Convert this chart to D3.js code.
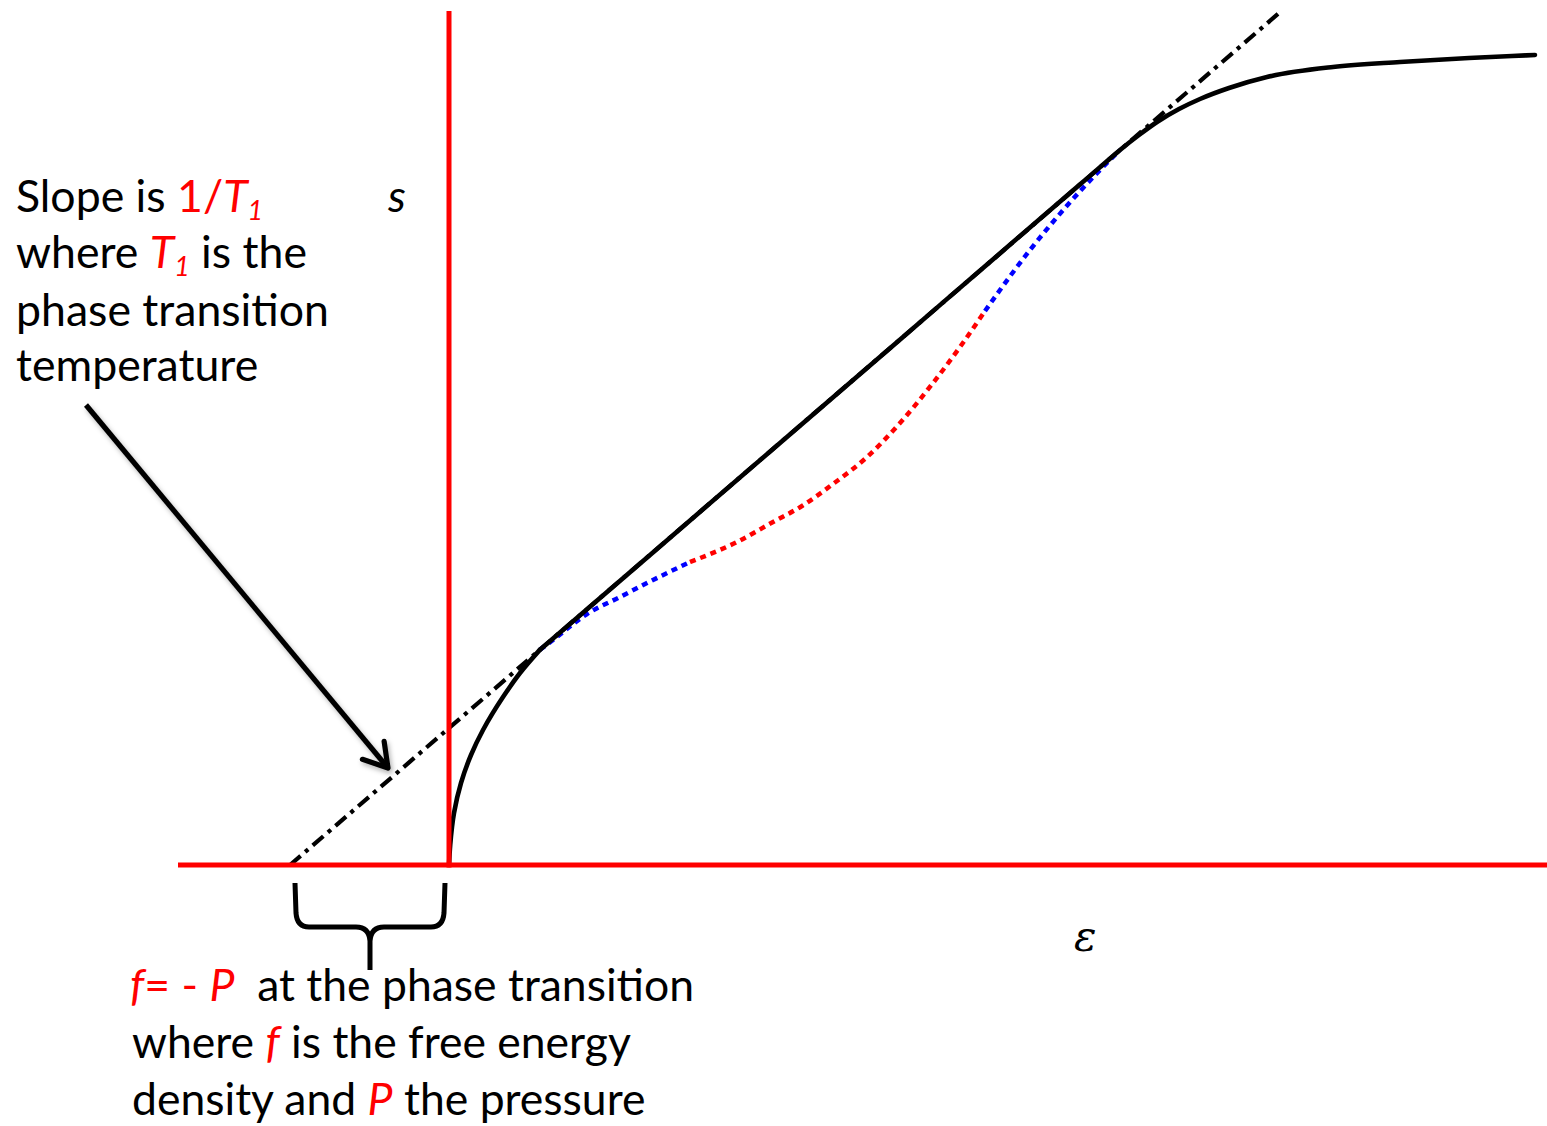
<!DOCTYPE html>
<html>
<head>
<meta charset="utf-8">
<script src="https://cdn.jsdelivr.net/npm/d3@7"></script>
<style>
  html, body { margin: 0; padding: 0; background: #fff; }
  svg { display: block; }
  text { white-space: pre; }
</style>
</head>
<body>
<script>
// Entropy density s versus energy density ε across a first-order phase transition.

// Extent of the axes (data units)
const epsExtent = [-2.71, 10.98];
const sExtent = [0, 8.54];

// Common tangent (Maxwell construction): s = slope * (ε - root)
const tangentSlope = 0.8614;
const tangentRoot = -1.59;

// Stable entropy, low-energy branch: rises vertically from the origin to the tangent point
const lowEps = [0, 0.012, 0.05, 0.12, 0.22, 0.34, 0.54, 0.71, 0.91];
const lowS   = [0, 0.2, 0.52, 0.82, 1.1, 1.35, 1.68, 1.92, 2.1535];

// Coexistence segment on the tangent, then the saturating high-energy branch
const highEps = [0.91, 1.2, 2.5, 4.5, 5.5, 6.3, 6.55, 6.71, 6.9, 7.08, 7.3, 7.51, 7.8, 8.18, 8.84, 9.51, 10.2, 10.63, 10.86];
const highS   = [2.1535, 2.403, 3.523, 5.246, 6.108, 6.797, 7.012, 7.150, 7.30, 7.43, 7.56, 7.66, 7.77, 7.88, 7.98, 8.03, 8.07, 8.09, 8.10];

// Metastable branches (blue) and unstable branch (red)
const metaLowEps  = [0.91, 1.04, 1.38, 1.71, 2.04, 2.41];
const metaLowS    = [2.1535, 2.25, 2.51, 2.68, 2.85, 3.03];
const unstableEps = [2.41, 2.88, 3.24, 3.53, 3.84, 4.18, 4.51, 4.84, 5.11, 5.36];
const unstableS   = [3.03, 3.23, 3.43, 3.59, 3.81, 4.08, 4.42, 4.82, 5.18, 5.54];
const metaHighEps = [5.36, 5.51, 5.81, 6.16, 6.51, 6.71];
const metaHighS   = [5.54, 5.75, 6.15, 6.57, 6.95, 7.150];

// Annotation anchors (data units)
const arrowFrom = [-3.63, 4.60];
const arrowTo   = [-0.61, 0.97];
const braceEps  = [-1.54, -0.04];        // spans from tangent root to the origin
const braceS    = [-0.18, -0.62, -1.05]; // top of arms, bar, tip

const W = 1547, H = 1126;
const RED = "#ff0000", BLUE = "#0000ff", BLACK = "#000000";
const FONT = "Lato, 'Open Sans', 'Noto Sans', sans-serif";

const svg = d3.select("body").append("svg")
  .attr("width", W).attr("height", H)
  .attr("viewBox", `0 0 ${W} ${H}`);

const x = d3.scaleLinear().domain(epsExtent).range([178, 1547]);
const y = d3.scaleLinear().domain(sExtent).range([865, 11]);

const defs = svg.append("defs");
defs.append("filter").attr("id", "soft-shadow")
  .attr("x", "-20%").attr("y", "-20%").attr("width", "140%").attr("height", "140%")
  .append("feDropShadow")
  .attr("dx", 2).attr("dy", 3).attr("stdDeviation", 2.5)
  .attr("flood-color", "#000").attr("flood-opacity", 0.3);

const zip = (xs, ys) => xs.map((v, i) => [v, ys[i]]);
const lineX = d3.line().x(d => x(d[0])).y(d => y(d[1])).curve(d3.curveMonotoneX);
const lineY = d3.line().x(d => x(d[0])).y(d => y(d[1])).curve(d3.curveMonotoneY);

// Tangent line (dash-dot), from its root up to the top of the frame
const tanEnd = sExtent[1] / tangentSlope + tangentRoot;
svg.append("path")
  .attr("d", d3.line().x(d => x(d[0])).y(d => y(d[1]))([[tangentRoot, 0], [tanEnd, sExtent[1]]]))
  .attr("fill", "none").attr("stroke", BLACK)
  .attr("stroke-width", 4.2).attr("stroke-dasharray", "14,6,4,6");

// Metastable / unstable branches (dotted)
[[metaLowEps, metaLowS, BLUE], [unstableEps, unstableS, RED], [metaHighEps, metaHighS, BLUE]]
  .forEach(([xs, ys, c]) => {
    svg.append("path")
      .attr("d", lineX(zip(xs, ys)))
      .attr("fill", "none").attr("stroke", c)
      .attr("stroke-width", 4.5).attr("stroke-dasharray", "6,5");
  });

// Stable entropy curve
const stable = svg.append("g").attr("fill", "none").attr("stroke", BLACK)
  .attr("stroke-width", 4.6).attr("stroke-linejoin", "round").attr("stroke-linecap", "round");
stable.append("path").attr("d", lineY(zip(lowEps, lowS)));
stable.append("path").attr("d", lineX(zip(highEps, highS)));

// Axes (red)
svg.append("line")
  .attr("x1", x(epsExtent[0])).attr("x2", x(epsExtent[1]))
  .attr("y1", y(0)).attr("y2", y(0))
  .attr("stroke", RED).attr("stroke-width", 5);
svg.append("line")
  .attr("x1", x(0)).attr("x2", x(0))
  .attr("y1", y(0) + 2.5).attr("y2", y(sExtent[1]))
  .attr("stroke", RED).attr("stroke-width", 5);

// Pointer arrow with an open head
const ax0 = x(arrowFrom[0]), ay0 = y(arrowFrom[1]);
const ax1 = x(arrowTo[0]),   ay1 = y(arrowTo[1]);
const ang = Math.atan2(ay1 - ay0, ax1 - ax0);
const headLen = 27, headSpread = 0.55;
const arrow = svg.append("g").attr("filter", "url(#soft-shadow)")
  .attr("fill", "none").attr("stroke", BLACK).attr("stroke-width", 5.2)
  .attr("stroke-linecap", "round").attr("stroke-linejoin", "round");
arrow.append("line")
  .attr("x1", ax0).attr("y1", ay0).attr("x2", ax1).attr("y2", ay1)
  .attr("stroke-linecap", "butt");
arrow.append("path")
  .attr("d", `M${ax1 - headLen * Math.cos(ang - headSpread)},${ay1 - headLen * Math.sin(ang - headSpread)}` +
             `L${ax1},${ay1}` +
             `L${ax1 - headLen * Math.cos(ang + headSpread)},${ay1 - headLen * Math.sin(ang + headSpread)}`);

// Curly brace under the axis between the tangent root and the origin
const bL = x(braceEps[0]), bR = x(braceEps[1]);
const bM = (bL + bR) / 2;
const bTop = y(braceS[0]), bBar = y(braceS[1]), bTip = y(braceS[2]);
const r = 14;
const bracePath =
  `M${bL},${bTop}` +
  `L${bL + 1},${bBar - r}` +
  `Q${bL + 2},${bBar} ${bL + r},${bBar}` +
  `L${bM - r},${bBar}` +
  `Q${bM - 1},${bBar} ${bM},${bBar + r}` +
  `L${bM},${bTip}` +
  `M${bM},${bBar + r}` +
  `Q${bM + 1},${bBar} ${bM + r},${bBar}` +
  `L${bR - r},${bBar}` +
  `Q${bR - 2},${bBar} ${bR - 1},${bBar - r}` +
  `L${bR},${bTop}`;
svg.append("path").attr("d", bracePath)
  .attr("fill", "none").attr("stroke", BLACK).attr("stroke-width", 5)
  .attr("stroke-linejoin", "round");

// Text annotations
function richLine(g, px, py, parts) {
  const t = g.append("text").attr("x", px).attr("y", py)
    .attr("font-family", FONT).attr("fill", BLACK);
  parts.forEach(p => {
    const ts = t.append("tspan").text(p.t);
    if (p.c) ts.attr("fill", p.c);
    if (p.i) ts.attr("font-style", "italic");
    if (p.sub) ts.attr("font-size", "60%").attr("dy", p.sub);
    if (p.dy) ts.attr("dy", p.dy);
  });
  return t;
}

const notes = svg.append("g");
const topLines = [
  richLine(notes, 16, 212, [{t: "Slope is "}, {t: "1/", c: RED}, {t: "T", c: RED, i: true}, {t: "1", c: RED, i: true, sub: 8}]),
  richLine(notes, 16, 268, [{t: "where "}, {t: "T", c: RED, i: true}, {t: "1", c: RED, i: true, sub: 8}, {t: " is the", dy: -8}]),
  richLine(notes, 16, 326, [{t: "phase transition"}]),
  richLine(notes, 16, 381, [{t: "temperature"}])
];
const bottomLines = [
  richLine(notes, 130, 1001, [{t: "f", c: RED, i: true}, {t: "= - ", c: RED}, {t: "P", c: RED, i: true}, {t: "  at the phase transition"}]),
  richLine(notes, 132, 1058, [{t: "where "}, {t: "f", c: RED, i: true}, {t: " is the free energy"}]),
  richLine(notes, 132, 1115, [{t: "density and "}, {t: "P", c: RED, i: true}, {t: " the pressure"}])
];

// Size the body text so the lines keep their widths
function fitSize(lines, ref, target) {
  lines.forEach(l => l.attr("font-size", 40));
  const w = ref.node().getComputedTextLength();
  const fs = 40 * target / w;
  lines.forEach(l => l.attr("font-size", fs));
  return fs;
}
const fs = fitSize(topLines, topLines[2], 313);
fitSize(bottomLines, bottomLines[1], 499);

// Axis labels
svg.append("text").attr("x", 388).attr("y", 212)
  .attr("font-family", FONT).attr("font-style", "italic")
  .attr("font-size", fs).attr("fill", BLACK).text("s");
svg.append("text").attr("x", 1074).attr("y", 951)
  .attr("font-family", "'DejaVu Serif', 'Liberation Serif', serif").attr("font-style", "italic")
  .attr("font-size", 42).attr("fill", BLACK).text("ε");
</script>
</body>
</html>
